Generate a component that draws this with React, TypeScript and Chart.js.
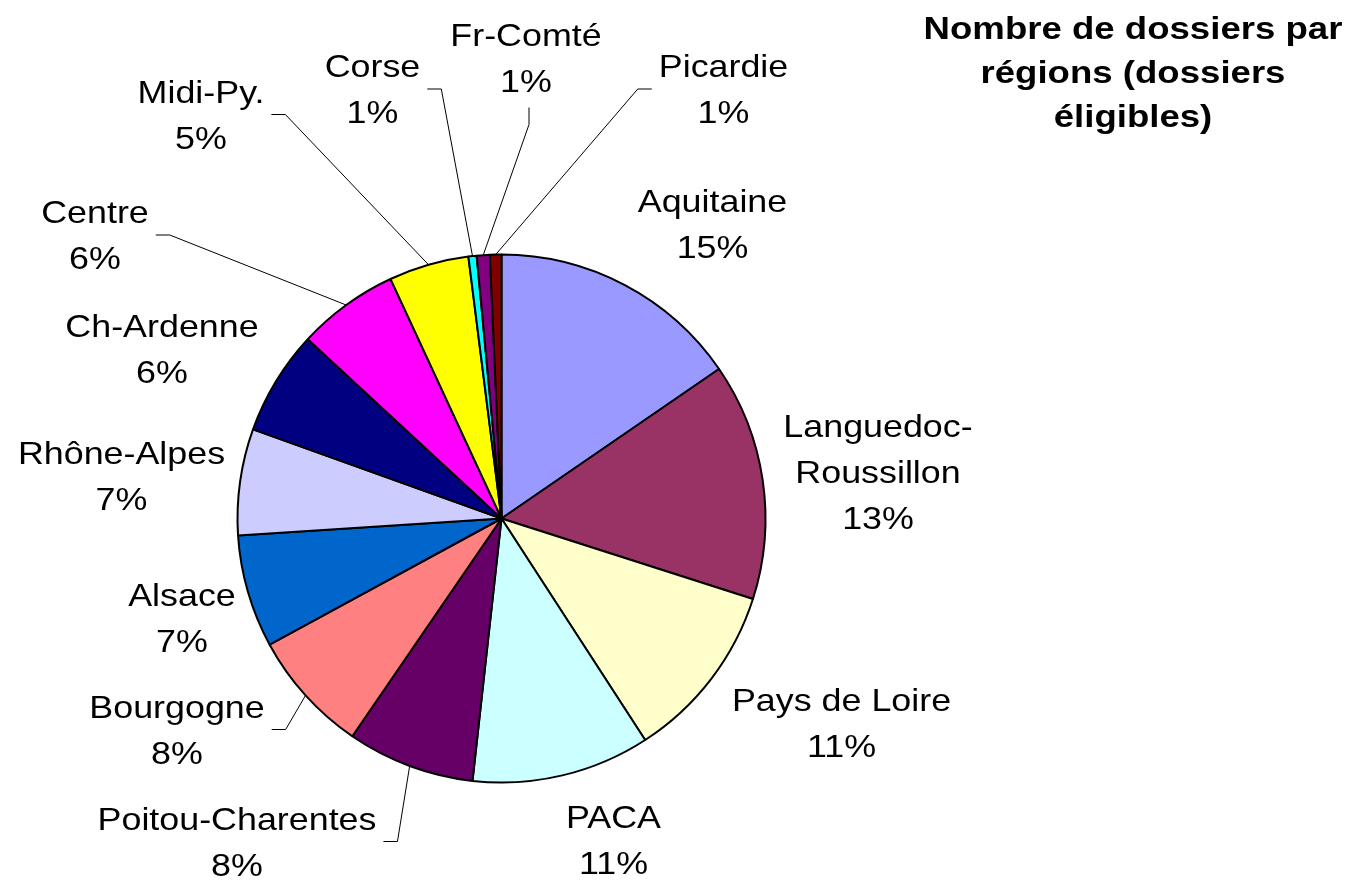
import React, { useEffect, useRef } from "react";
import { Chart, registerables } from "chart.js";

Chart.register(...registerables);

// ---- data ----
const regions = [
  "Aquitaine",
  "Languedoc-\nRoussillon",
  "Pays de Loire",
  "PACA",
  "Poitou-Charentes",
  "Bourgogne",
  "Alsace",
  "Rhône-Alpes",
  "Ch-Ardenne",
  "Centre",
  "Midi-Py.",
  "Corse",
  "Fr-Comté",
  "Picardie",
];

const shares = [15.4, 14.5, 10.9, 10.9, 7.8, 7.5, 6.9, 6.5, 6.4, 6.2, 4.9, 0.5, 0.8, 0.7];

const shareLabels = ["15%", "13%", "11%", "11%", "8%", "8%", "7%", "7%", "6%", "6%", "5%", "1%", "1%", "1%"];

const sliceColors = [
  "#9999FF",
  "#993366",
  "#FFFFCC",
  "#CCFFFF",
  "#660066",
  "#FF8080",
  "#0066CC",
  "#CCCCFF",
  "#000080",
  "#FF00FF",
  "#FFFF00",
  "#00FFFF",
  "#800080",
  "#800000",
];

const titleLines = ["Nombre de dossiers par", "régions (dossiers", "éligibles)"];

// ---- label layout (offsets from pie centre, px) ----
const labelLayout = [
  { dx: 211, dy: -295, leader: "" },
  { dx: 376.5, dy: -46.5, leader: "" },
  { dx: 340, dy: 204, leader: "" },
  { dx: 112, dy: 321.5, leader: "" },
  { dx: -264.5, dy: 323, leader: "right" },
  { dx: -324.5, dy: 211, leader: "right" },
  { dx: -319.5, dy: 99, leader: "" },
  { dx: -380, dy: -43, leader: "" },
  { dx: -339.5, dy: -170, leader: "" },
  { dx: -406.5, dy: -283.5, leader: "right" },
  { dx: -300.5, dy: -404, leader: "right" },
  { dx: -129, dy: -429.5, leader: "right" },
  { dx: 24.5, dy: -461, leader: "bottom" },
  { dx: 222, dy: -429.5, leader: "left" },
];

const LABEL_FONT = "32px 'Liberation Sans', Arial, sans-serif";
const LABEL_SIZE = 32;
const LABEL_SCALE_X = 1.12;
const LINE_GAP = 46;
const TITLE_FONT = "bold 31px 'Liberation Sans', Arial, sans-serif";
const TITLE_SIZE = 31;
const TITLE_SCALE_X = 1.18;

function drawScaledText(ctx: CanvasRenderingContext2D, text: string, x: number, yCenter: number, size: number, sx: number) {
  ctx.save();
  ctx.translate(x, yCenter + 0.358 * size);
  ctx.scale(sx, 1);
  ctx.fillText(text, 0, 0);
  ctx.restore();
}

const labelPlugin = {
  id: "pieLabels",
  afterDraw(chart: any) {
    const ctx: CanvasRenderingContext2D = chart.ctx;
    const meta = chart.getDatasetMeta(0);
    ctx.save();
    ctx.fillStyle = "#000";
    ctx.textAlign = "center";
    ctx.textBaseline = "alphabetic";

    meta.data.forEach((arc: any, i: number) => {
      const { x, y, startAngle, endAngle, outerRadius } = arc.getProps(
        ["x", "y", "startAngle", "endAngle", "outerRadius"],
        true
      );
      const layout = labelLayout[i];
      const cx = x + layout.dx;
      const cy = y + layout.dy;
      const lines = [...regions[i].split("\n"), shareLabels[i]];
      ctx.font = LABEL_FONT;
      const n = lines.length;
      let maxW = 0;
      lines.forEach((ln, k) => {
        const ly = cy + (k - (n - 1) / 2) * LINE_GAP;
        drawScaledText(ctx, ln, cx, ly, LABEL_SIZE, LABEL_SCALE_X);
        maxW = Math.max(maxW, ctx.measureText(ln).width * LABEL_SCALE_X);
      });

      if (layout.leader) {
        const mid = (startAngle + endAngle) / 2;
        const ex = x + Math.cos(mid) * outerRadius;
        const ey = y + Math.sin(mid) * outerRadius;
        let sxp = 0, syp = 0, bx = 0, by = 0;
        if (layout.leader === "right") {
          sxp = cx + maxW / 2 + 7;
          syp = cy;
          bx = sxp + 14;
          by = cy;
        } else if (layout.leader === "left") {
          sxp = cx - maxW / 2 - 7;
          syp = cy;
          bx = sxp - 14;
          by = cy;
        } else {
          sxp = cx + 3;
          syp = cy + 50;
          bx = sxp;
          by = cy + 67;
        }
        ctx.beginPath();
        ctx.strokeStyle = "#000";
        ctx.lineWidth = 1;
        ctx.moveTo(sxp, syp);
        ctx.lineTo(bx, by);
        ctx.lineTo(ex, ey);
        ctx.stroke();
      }
    });

    // title
    ctx.font = TITLE_FONT;
    const tx = 1133;
    titleLines.forEach((t, k) => {
      drawScaledText(ctx, t, tx, 28 + k * 44, TITLE_SIZE, TITLE_SCALE_X);
    });
    ctx.restore();
  },
};

export default function App() {
  const canvasRef = useRef<HTMLCanvasElement | null>(null);

  useEffect(() => {
    if (!canvasRef.current) return;
    const chart = new Chart(canvasRef.current, {
      type: "pie",
      data: {
        labels: regions.map((r) => r.replace("\n", "")),
        datasets: [
          {
            data: shares,
            backgroundColor: sliceColors,
            borderColor: "#000000",
            borderWidth: 2,
            radius: 264,
          } as any,
        ],
      },
      options: {
        responsive: false,
        animation: false,
        events: [],
        devicePixelRatio: 1,
        layout: {
          padding: { top: 254.5, bottom: 98.5, left: 237.5, right: 585.5 },
        },
        plugins: {
          legend: { display: false },
          title: { display: false },
          tooltip: { enabled: false },
        },
      },
      plugins: [labelPlugin],
    });
    return () => chart.destroy();
  }, []);

  return (
    <div style={{ position: "fixed", left: 0, top: 0, width: 1351, height: 881, background: "#fff" }}>
      <canvas ref={canvasRef} width={1351} height={881} style={{ width: 1351, height: 881, display: "block" }} />
    </div>
  );
}
